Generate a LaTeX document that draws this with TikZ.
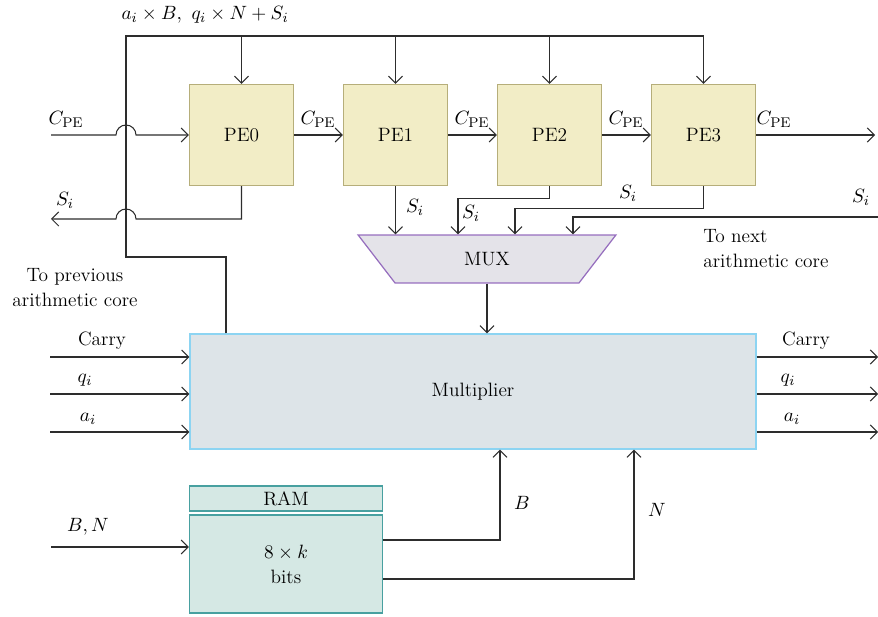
\documentclass[tikz,border=0pt]{standalone}
\usepackage{amsmath}
\definecolor{pefill}{RGB}{242,237,198}
\definecolor{pedraw}{RGB}{182,174,122}
\definecolor{muxfill}{RGB}{228,227,233}
\definecolor{muxdraw}{RGB}{150,110,190}
\definecolor{mulfill}{RGB}{221,228,232}
\definecolor{muldraw}{RGB}{140,212,242}
\definecolor{ramfill}{RGB}{213,232,228}
\definecolor{ramdraw}{RGB}{72,160,160}
\definecolor{wirecol}{RGB}{45,45,45}
\usetikzlibrary{arrows.meta,positioning,shapes.geometric,calc}

\begin{document}
\begin{tikzpicture}[x=0.02cm, y=-0.02cm,
    every node/.style={font=\fontsize{11}{14.2}\selectfont},
    pebox/.style={rectangle, draw=pedraw, fill=pefill, line width=0.7pt,
                  minimum width=2.08cm, minimum height=2.02cm, inner sep=0pt},
    muxbox/.style={trapezium, trapezium stretches=true, shape border rotate=180,
                   draw=muxdraw, fill=muxfill, line width=0.7pt,
                   minimum width=5.16cm, minimum height=0.96cm, inner sep=0pt,
                   trapezium left angle=56, trapezium right angle=56},
    mulbox/.style={rectangle, draw=muldraw, fill=mulfill, line width=0.7pt,
                   minimum width=11.32cm, minimum height=2.3cm, inner sep=0pt},
    rambox/.style={rectangle, draw=ramdraw, fill=ramfill, line width=0.7pt,
                   minimum width=3.86cm, inner sep=0pt, align=center},
    wire/.style={draw=wirecol, line width=0.6pt},
    arr/.style={wire, -{Straight Barb[length=4pt, width=8pt]}},
    lbl/.style={inner sep=0pt}
  ]
    \useasboundingbox (0,0) rectangle (878,617);

    % Processing elements
    \node[pebox] (pe0) at (241.5,135) {PE0};
    \node[pebox] (pe1) at (395.5,135) {PE1};
    \node[pebox] (pe2) at (549.5,135) {PE2};
    \node[pebox] (pe3) at (703.5,135) {PE3};

    % MUX, multiplier, RAM
    \node[muxbox] (mux) at (487,259) {MUX};
    \node[mulbox] (mul) at (473,391.5) {Multiplier};
    \node[rambox, minimum height=0.5cm]  (ramlbl) at (286,498.5) {RAM};
    \node[rambox, minimum height=1.96cm] (ram)    at (286,564) {$8\times k$\\bits};

    % Free ends
    \coordinate (busW) at (126,36);
    \coordinate (cin)   at (51,135);
    \coordinate (sout)  at (51,219);
    \coordinate (cout)  at (875,135);
    \coordinate (snext) at (878,217);
    \coordinate (bnin)  at (51,547);

    % Shared bus to the PEs
    \draw[wire] (226,0 |- mul.north) -- (226,257) -- (126,257) -- (busW) -- (pe3.north |- busW);
    \foreach \p in {pe0,pe1,pe2,pe3}
      \draw[arr] (\p.north |- busW) -- (\p.north);
    \node[lbl] (busl) at (205,15) {$a_i\times B,\ q_i\times N+S_i$};

    % Carry chain
    \draw[arr] (cin) -- (116,135) arc[start angle=180, end angle=360, radius=10] -- (pe0.west);
    \draw[arr] (pe0) -- (pe1);
    \draw[arr] (pe1) -- (pe2);
    \draw[arr] (pe2) -- (pe3);
    \draw[arr] (pe3) -- (cout);
    \node[lbl] (c0) at (66,119) {$C_{\mathrm{PE}}$};
    \node[lbl] (c1) at (318,119) {$C_{\mathrm{PE}}$};
    \node[lbl] (c2) at (472,119) {$C_{\mathrm{PE}}$};
    \node[lbl] (c3) at (626,119) {$C_{\mathrm{PE}}$};
    \node[lbl] (c4) at (774,119) {$C_{\mathrm{PE}}$};

    % Partial sums
    \draw[arr] (pe0.south) -- (pe0.south |- sout) -- (136,219)
      arc[start angle=0, end angle=-180, radius=10] -- (sout);
    \draw[arr] (pe1.south) -- (pe1.south |- mux.north);
    \draw[arr] (pe2.south) -- ++(0,12) -| (458,0 |- mux.north);
    \draw[arr] (pe3.south) -- ++(0,22) -| (515,0 |- mux.north);
    \draw[arr] (snext) -| (573,0 |- mux.north);
    \node[lbl] (s0) at (65,200) {$S_i$};
    \node[lbl] (s1) at (415,207) {$S_i$};
    \node[lbl] (s2) at (471,213) {$S_i$};
    \node[lbl] (s3) at (628,193) {$S_i$};
    \node[lbl] (s4) at (861,197) {$S_i$};
    \node[lbl, anchor=west, align=left] (nextl) at (703,249) {To next\\arithmetic core};
    \node[lbl, align=center] (prevl) at (75,288) {To previous\\arithmetic core};

    % MUX to multiplier
    \draw[arr] (mux.south) -- (mux.south |- mul.north);

    % Multiplier inputs and outputs
    \foreach \y [count=\k] in {357, 394, 432} {
      \coordinate (min\k) at (50,\y);
      \coordinate (mout\k) at (878,\y);
      \draw[arr] (min\k) -- (min\k -| mul.west);
      \draw[arr] (mout\k -| mul.east) -- (mout\k);
    }
    \node[lbl] (cl) at (102,341) {Carry};
    \node[lbl] (ql) at (85,380) {$q_i$};
    \node[lbl] (al) at (88,419) {$a_i$};
    \node[lbl] (cr) at (806,341) {Carry};
    \node[lbl] (qr) at (788,380) {$q_i$};
    \node[lbl] (ar) at (792,419) {$a_i$};

    % RAM
    \draw[arr] (bnin) -- (bnin -| ram.west);
    \node[lbl] (bnl) at (88,527) {$B,N$};
    \draw[arr] (ram.east |- 0,540) -| (500,0 |- mul.south);
    \draw[arr] (ram.east |- 0,579) -| (634,0 |- mul.south);
    \node[lbl] (bl) at (522,503) {$B$};
    \node[lbl] (nl) at (657,510) {$N$};
  \end{tikzpicture}
\end{document}
